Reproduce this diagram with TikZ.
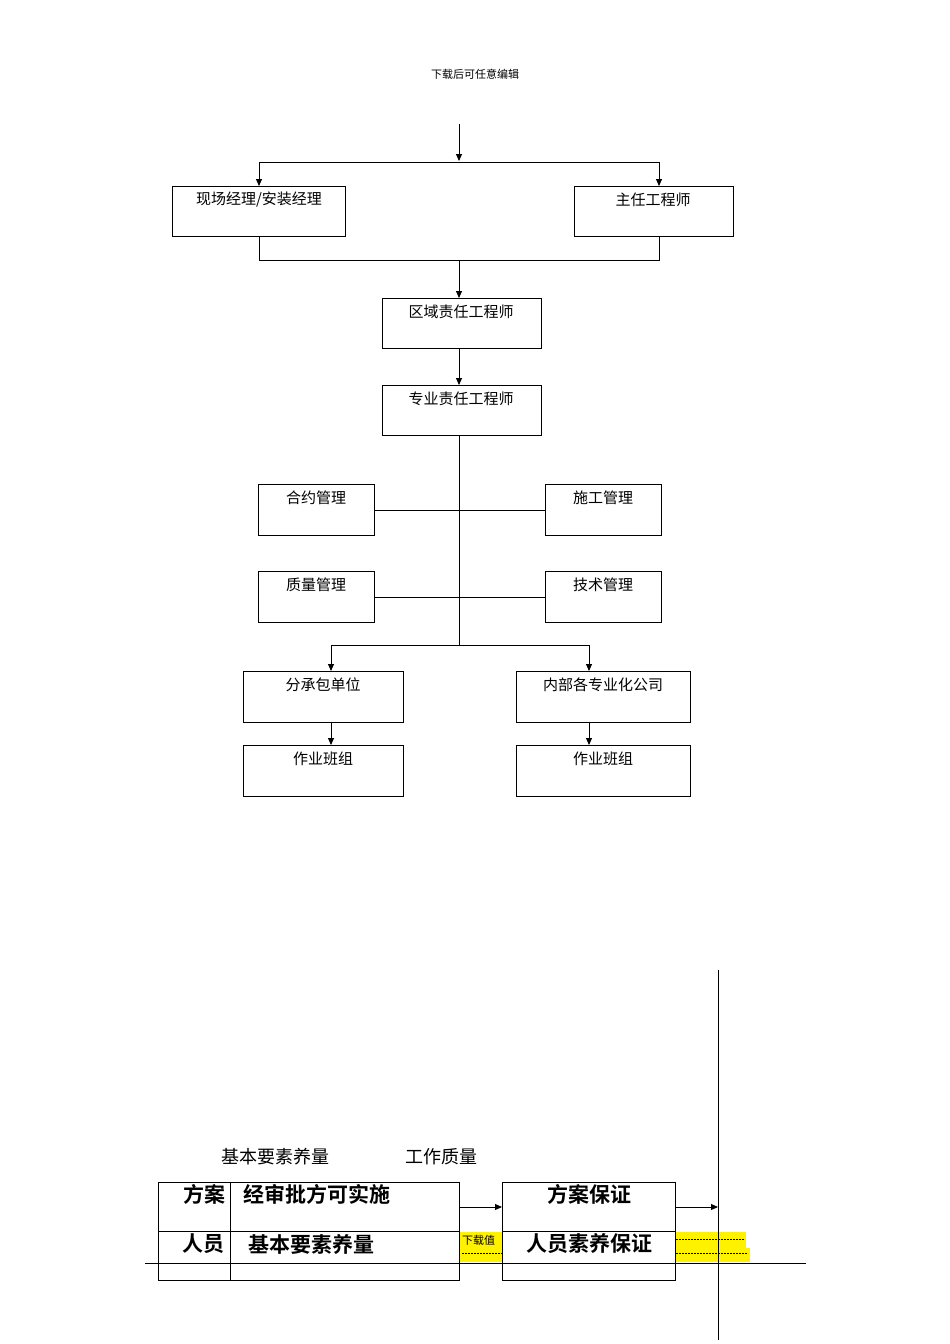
\documentclass[tikz,border=0pt]{standalone}
\usepackage{fontspec}
\setmainfont{Liberation Serif}
\newfontfamily\cjk{Noto Sans CJK SC}
\newfontfamily\cjkb{Noto Sans CJK SC Bold}
\usetikzlibrary{arrows.meta}
\begin{document}
\begin{tikzpicture}[x=1pt,y=-1pt,
  bx/.style={draw,line width=0.9pt,minimum width=#1,minimum height=50pt,anchor=north west,inner sep=0},
  lab/.style={font=\cjk\fontsize{15}{15}\selectfont},
  ln/.style={line width=0.9pt},
  ar/.style={ln,-{Triangle[length=7pt,width=6pt]}},
  bl/.style={font=\cjkb\fontsize{21}{21}\selectfont}]
\useasboundingbox (0,0) rectangle (950,1344);
\node[font=\cjk\fontsize{11}{11}\selectfont] (hdr) at (475,74) {下载后可任意编辑};
% boxes
\node[bx=173pt] (b1) at (172,186) {}; \node[lab] at (259,200) {现场经理/安装经理};
\node[bx=159pt] (b2) at (574,186) {}; \node[lab] at (653,200) {主任工程师};
\node[bx=159pt] (b3) at (382,298) {}; \node[lab] at (461,312) {区域责任工程师};
\node[bx=159pt] (b4) at (382,385) {}; \node[lab] at (461,399) {专业责任工程师};
\node[bx=116pt,minimum height=51pt] (c1) at (258,484) {}; \node[lab] at (316,498) {合约管理};
\node[bx=116pt,minimum height=51pt] (c2) at (545,484) {}; \node[lab] at (603,498) {施工管理};
\node[bx=116pt,minimum height=51pt] (c3) at (258,571) {}; \node[lab] at (316,585) {质量管理};
\node[bx=116pt,minimum height=51pt] (c4) at (545,571) {}; \node[lab] at (603,585) {技术管理};
\node[bx=160pt,minimum height=51pt] (d1) at (243,671) {}; \node[lab] at (323,685) {分承包单位};
\node[bx=174pt,minimum height=51pt] (d2) at (516,671) {}; \node[lab] at (603,685) {内部各专业化公司};
\node[bx=160pt,minimum height=51pt] (e1) at (243,745) {}; \node[lab] at (323,759) {作业班组};
\node[bx=174pt,minimum height=51pt] (e2) at (516,745) {}; \node[lab] at (603,759) {作业班组};
% connectors
\coordinate (top) at (459,124);
\draw[ar] (top) -- (459,161);
\draw[ln] (259,162) -- (659,162);
\draw[ar] (259,162) -- (259,186);
\draw[ar] (659,162) -- (659,186);
\draw[ln] (259,236) -- (259,260) -- (659,260) -- (659,236);
\draw[ar] (459,260) -- (459,298);
\draw[ar] (459,348) -- (459,385);
\draw[ln] (459,435) -- (459,645);
\draw[ln] (c1.east |- 0,510) -- (c2.west |- 0,510);
\draw[ln] (c3.east |- 0,597) -- (c4.west |- 0,597);
\draw[ln] (331,645) -- (589,645);
\draw[ar] (331,645) -- (331,671);
\draw[ar] (589,645) -- (589,671);
\draw[ar] (331,722) -- (331,745);
\draw[ar] (589,722) -- (589,745);
% bottom
\fill[yellow] (459,1232) rectangle (502,1262);
\fill[yellow] (675,1232) rectangle (746,1250);
\fill[yellow] (675,1248) rectangle (750,1262);
\node[font=\cjk\fontsize{11}{11}\selectfont,anchor=west,inner sep=0] (dl) at (462,1240) {下载值};
\draw[dashed,line width=0.4pt,dash pattern=on 2pt off 1pt] (462,1253) -- (502,1253);
\draw[dashed,line width=0.4pt,dash pattern=on 2pt off 1pt] (676,1239) -- (745,1239);
\draw[dashed,line width=0.4pt,dash pattern=on 2pt off 1pt] (676,1253) -- (748,1253);
\node[font=\cjk\fontsize{18}{18}\selectfont] (t1) at (275,1157) {基本要素养量};
\node[font=\cjk\fontsize{18}{18}\selectfont] (t2) at (441,1157) {工作质量};
\draw[ln] (718,970) -- (718,1340);
\draw[ln] (145,1263) -- (806,1263);
\node[bx=301pt,minimum height=98pt,fill=none] (L) at (158,1182) {};
\draw[ln] (230,1182) -- (230,1280);
\draw[ln] (158,1231) -- (459,1231);
\node[bx=173pt,minimum height=98pt] (R) at (502,1182) {};
\draw[ln] (502,1231) -- (675,1231);
\node[bl] at (204,1194) {方案};
\node[bl,anchor=west] at (240,1194) {经审批方可实施};
\node[bl] at (203,1244) {人员};
\node[bl,anchor=west] at (245,1244) {基本要素养量};
\node[bl] at (589,1194) {方案保证};
\node[bl] at (589,1244) {人员素养保证};
\draw[ar] (459,1207) -- (502,1207);
\draw[ar] (675,1207) -- (718,1207);
\end{tikzpicture}
\end{document}
